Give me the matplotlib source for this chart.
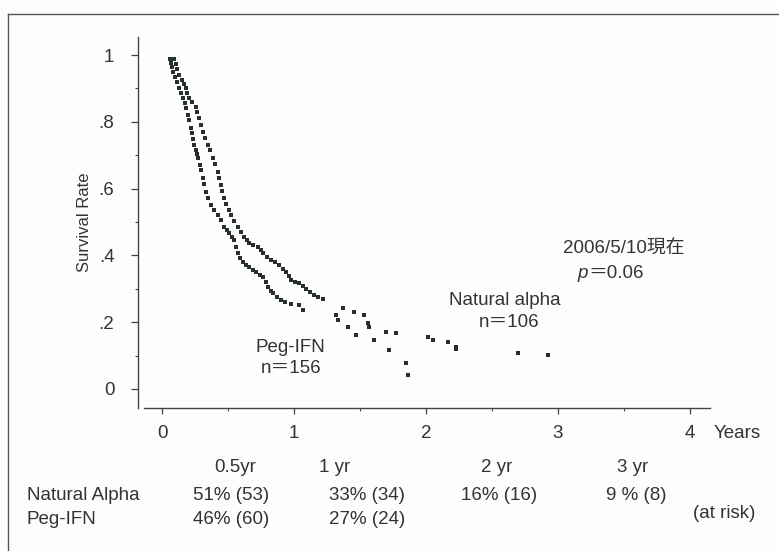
import matplotlib
matplotlib.use("Agg")
import matplotlib.pyplot as plt
from matplotlib.lines import Line2D
from matplotlib.ticker import MultipleLocator, FixedLocator

plt.rcParams['font.family'] = ['Liberation Sans', 'Noto Sans CJK JP', 'DejaVu Sans']

# ---- data: survival points (years, survival rate) ----
peg_t = [0.061, 0.068, 0.076, 0.083, 0.098, 0.114, 0.129, 0.144, 0.159, 0.174,
         0.182, 0.197, 0.205, 0.220, 0.227, 0.235, 0.242, 0.258, 0.265, 0.273,
         0.288, 0.295, 0.311, 0.318, 0.333, 0.348, 0.371, 0.394, 0.424, 0.447,
         0.470, 0.492, 0.508, 0.530, 0.545, 0.561, 0.576, 0.591, 0.614, 0.636,
         0.659, 0.689, 0.712, 0.742, 0.765, 0.788, 0.803, 0.826, 0.841, 0.871,
         0.902, 0.932, 0.977, 1.038, 1.068, 1.318, 1.333, 1.409, 1.470, 1.606,
         1.720, 1.848, 1.864]
peg_s = [0.988, 0.976, 0.964, 0.949, 0.934, 0.919, 0.901, 0.886, 0.871, 0.856,
         0.841, 0.820, 0.805, 0.781, 0.766, 0.749, 0.731, 0.716, 0.704, 0.692,
         0.671, 0.656, 0.632, 0.614, 0.590, 0.572, 0.551, 0.536, 0.521, 0.506,
         0.485, 0.476, 0.467, 0.455, 0.446, 0.425, 0.407, 0.392, 0.380, 0.371,
         0.365, 0.356, 0.350, 0.341, 0.335, 0.320, 0.305, 0.293, 0.287, 0.275,
         0.266, 0.260, 0.254, 0.251, 0.237, 0.222, 0.207, 0.186, 0.162, 0.147,
         0.117, 0.078, 0.042]

nat_t = [0.091, 0.106, 0.114, 0.129, 0.152, 0.167, 0.182, 0.189, 0.205, 0.227,
         0.258, 0.265, 0.280, 0.295, 0.311, 0.326, 0.348, 0.364, 0.386, 0.402,
         0.424, 0.432, 0.447, 0.455, 0.470, 0.485, 0.508, 0.523, 0.545, 0.576,
         0.598, 0.621, 0.644, 0.659, 0.689, 0.727, 0.750, 0.765, 0.795, 0.826,
         0.856, 0.886, 0.917, 0.939, 0.962, 0.977, 1.008, 1.038, 1.068, 1.091,
         1.121, 1.152, 1.182, 1.220, 1.371, 1.455, 1.530, 1.561, 1.568, 1.697,
         1.773, 2.015, 2.053, 2.167, 2.227, 2.227, 2.697, 2.924]
nat_s = [0.988, 0.973, 0.958, 0.940, 0.925, 0.913, 0.901, 0.886, 0.871, 0.859,
         0.844, 0.829, 0.811, 0.790, 0.769, 0.751, 0.731, 0.716, 0.692, 0.674,
         0.650, 0.632, 0.611, 0.593, 0.572, 0.554, 0.536, 0.521, 0.503, 0.485,
         0.470, 0.455, 0.446, 0.437, 0.431, 0.425, 0.416, 0.407, 0.395, 0.386,
         0.380, 0.371, 0.359, 0.350, 0.338, 0.326, 0.320, 0.317, 0.308, 0.299,
         0.290, 0.281, 0.275, 0.269, 0.243, 0.231, 0.222, 0.198, 0.186, 0.171,
         0.168, 0.156, 0.147, 0.141, 0.126, 0.120, 0.108, 0.102]

y_ticks = [0, 0.2, 0.4, 0.6, 0.8, 1.0]
y_labels = ['0', '.2', '.4', '.6', '.8', '1']
x_ticks = [0, 1, 2, 3, 4]

# at-risk table
table_cols = ['0.5yr', '1 yr', '2 yr', '3 yr']
nat_row = ['51% (53)', '33% (34)', '16% (16)', '9 % (8)']
peg_row = ['46% (60)', '27% (24)']

TXT = '#333333'
DOT = '#28302b'
FS = 13.5
W, H = 779, 551

fig = plt.figure(figsize=(W / 100, H / 100), dpi=100)
fig.patch.set_facecolor('#fdfdfb')

# axes placed in pixel terms
ax = fig.add_axes([138 / W, (H - 408) / H, (710 - 138) / W, (408 - 37) / H])
ax.set_facecolor('none')
ax.set_xlim(-0.182, 4.152)
ax.set_ylim(-0.057, 1.054)

ax.scatter(peg_t, peg_s, s=11, marker='s', color=DOT, linewidths=0)
ax.scatter(nat_t, nat_s, s=11, marker='s', color=DOT, linewidths=0)

for side in ['top', 'right']:
    ax.spines[side].set_visible(False)
for side in ['left', 'bottom']:
    ax.spines[side].set_color('#444444')
    ax.spines[side].set_linewidth(1.0)
ax.spines['bottom'].set_bounds(-0.14, 4.152)

ax.yaxis.set_major_locator(FixedLocator(y_ticks))
ax.set_yticklabels(y_labels)
ax.yaxis.set_minor_locator(MultipleLocator(0.1))
ax.xaxis.set_major_locator(FixedLocator(x_ticks))
ax.xaxis.set_minor_locator(MultipleLocator(0.5))
ax.tick_params(axis='y', which='major', direction='out', length=5, width=0.9,
               pad=12, labelsize=FS, colors='#444444', labelcolor=TXT)
ax.tick_params(axis='y', which='minor', direction='out', length=2.5, width=0.8,
               colors='#444444')
ax.tick_params(axis='x', which='major', direction='out', length=4.5, width=0.9,
               pad=8, labelsize=FS, colors='#444444', labelcolor=TXT)
ax.tick_params(axis='x', which='minor', direction='out', length=2.5, width=0.8,
               colors='#444444')
ax.set_ylabel('Survival Rate', fontsize=12, color=TXT, labelpad=5)

# annotations inside the plot
ax.text(3.5, 0.42, '2006/5/10現在', ha='center', va='center', fontsize=FS, color=TXT)
ax.text(3.23, 0.345, 'p', ha='right', va='center', fontsize=FS, color=TXT, style='italic')
ax.text(3.23, 0.345, '＝0.06', ha='left', va='center', fontsize=FS, color=TXT)
ax.text(2.6, 0.265, 'Natural alpha', ha='center', va='center', fontsize=FS, color=TXT)
ax.text(2.63, 0.2, 'n＝106', ha='center', va='center', fontsize=FS, color=TXT)
ax.text(0.97, 0.125, 'Peg-IFN', ha='center', va='center', fontsize=FS, color=TXT)
ax.text(0.98, 0.06, 'n＝156', ha='center', va='center', fontsize=FS, color=TXT)

# "Years" next to the x axis
fig.text(714 / W, 1 - 433 / H, 'Years', ha='left', va='center', fontsize=FS, color=TXT)

# at-risk table below the axes
col_x = [235, 335, 497, 633]
val_x = [231, 367, 499, 636]
for cx, lab in zip(col_x, table_cols):
    fig.text(cx / W, 1 - 468 / H, lab, ha='center', va='center', fontsize=FS, color=TXT)
fig.text(27 / W, 1 - 496 / H, 'Natural Alpha', ha='left', va='center', fontsize=FS, color=TXT)
fig.text(27 / W, 1 - 520 / H, 'Peg-IFN', ha='left', va='center', fontsize=FS, color=TXT)
for vx, v in zip(val_x, nat_row):
    fig.text(vx / W, 1 - 496 / H, v, ha='center', va='center', fontsize=FS, color=TXT)
for vx, v in zip(val_x, peg_row):
    fig.text(vx / W, 1 - 520 / H, v, ha='center', va='center', fontsize=FS, color=TXT)
fig.text(724 / W, 1 - 514 / H, '(at risk)', ha='center', va='center', fontsize=FS, color=TXT)

# outer frame (top and left edges visible in the scan)
fig.add_artist(Line2D([8 / W, 1.0], [1 - 14 / H, 1 - 14 / H], transform=fig.transFigure,
                      color='#555555', lw=1.0))
fig.add_artist(Line2D([8 / W, 8 / W], [0.0, 1 - 14 / H], transform=fig.transFigure,
                      color='#555555', lw=1.0))

fig.savefig('out.png', dpi=100, facecolor=fig.get_facecolor())
